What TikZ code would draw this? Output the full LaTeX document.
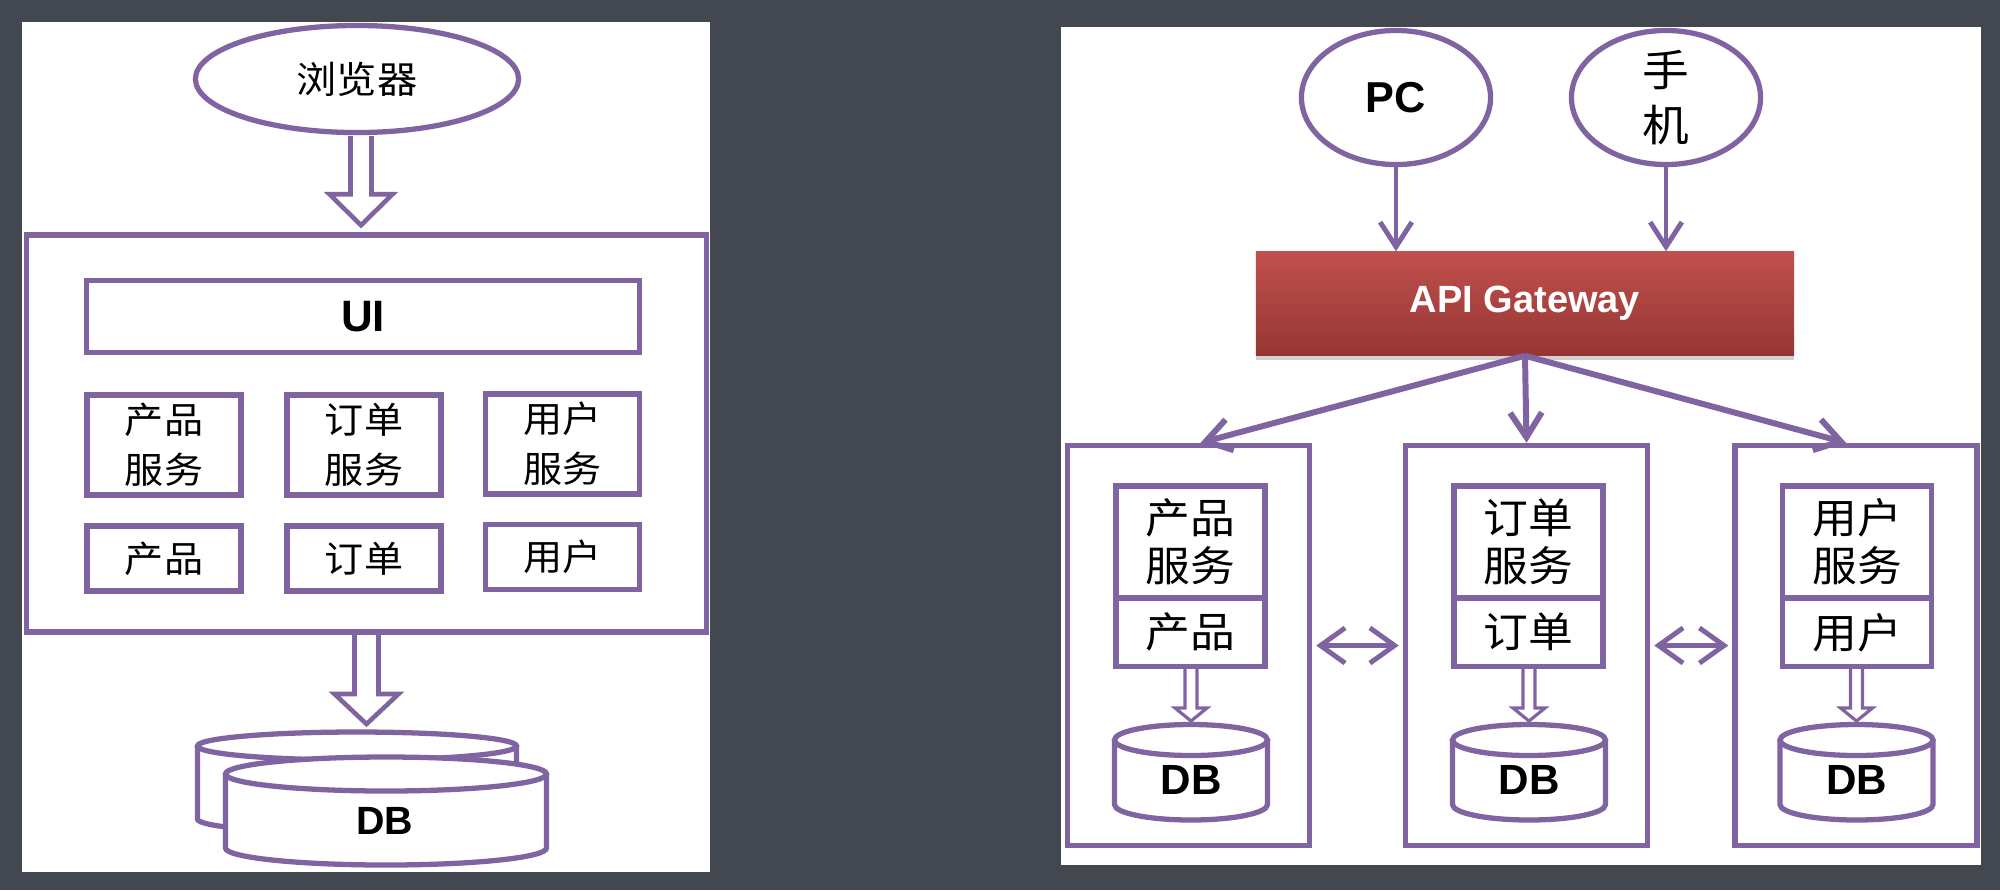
\documentclass[tikz,border=0pt]{standalone}
\usepackage{fontspec}
\setmainfont{Liberation Sans}
\newfontfamily\cjk[FakeStretch=1.08]{Noto Sans CJK SC}
\usetikzlibrary{arrows.meta,calc,shadows,shapes.geometric}
\definecolor{pur}{HTML}{8064A2}
\definecolor{bgc}{HTML}{43474F}
\definecolor{gwtop}{HTML}{C0504D}
\definecolor{gwbot}{HTML}{963634}
\newcommand\dbcyl[5]{%
  \fill[white] ({#1-#4},{-#2}) -- ({#1-#4},{-#3}) arc[start angle=180,end angle=360,x radius=#4,y radius=#5] -- ({#1+#4},{-#2}) -- cycle;
  \fill[white] ({#1},{-#2}) ellipse[x radius=#4,y radius=#5];
  \draw[pline] ({#1-#4},{-#2}) -- ({#1-#4},{-#3}) arc[start angle=180,end angle=360,x radius=#4,y radius=#5] -- ({#1+#4},{-#2});
  \draw[pline] ({#1},{-#2}) ellipse[x radius=#4,y radius=#5];
}
\begin{document}
\begin{tikzpicture}[x=0.01cm,y=0.01cm,
  pline/.style={draw=pur,line width=1.5pt},
  box/.style={draw=pur,line width=1.5pt,fill=white,rectangle,inner sep=0pt,align=center},
  oval/.style={draw=pur,line width=1.5pt,fill=white,ellipse,inner sep=0pt,align=center},
  hollow/.style={draw=pur,line width=1.3pt,line join=miter},
  thinhollow/.style={draw=pur,line width=0.9pt,line join=miter},
  barb/.style={draw=pur,line width=1.4pt,-{Straight Barb[length=7pt,width=9pt]}},
  dbarb/.style={draw=pur,line width=1.4pt,{Straight Barb[length=7pt,width=10pt]}-{Straight Barb[length=7pt,width=10pt]}},
  cnL/.style={font=\fontsize{10.3}{14.2}\selectfont\cjk},
  cnR/.style={font=\fontsize{11.8}{13.7}\selectfont\cjk},
  lat/.style={font=\bfseries\fontsize{#1}{#1}\selectfont}
]
\fill[bgc] (0,0) rectangle (2000,-890);
\useasboundingbox (0,0) rectangle (2000,-890);

% ---------------- left: monolith ----------------
\fill[white] (22,-22) rectangle (710,-872);
\node[oval,minimum width=3.23cm,minimum height=1.07cm,font=\fontsize{10.6}{12}\selectfont\cjk] (browser) at (357,-79) {浏览器};
\node[box,minimum width=6.79cm,minimum height=3.97cm] (mono) at (366.5,-433.5) {};
\node[box,minimum width=5.53cm,minimum height=0.72cm,lat=12.5] (ui) at (363,-316.5) {UI};
\node[box,minimum width=1.54cm,minimum height=1.00cm,cnL] (ls1) at (164,-445) {产品\\服务};
\node[box,minimum width=1.54cm,minimum height=1.00cm,cnL] (ls2) at (364,-445) {订单\\服务};
\node[box,minimum width=1.54cm,minimum height=1.00cm,cnL] (ls3) at (562.5,-444) {用户\\服务};
\node[box,minimum width=1.54cm,minimum height=0.65cm,cnL] (ld1) at (164,-558.5) {产品};
\node[box,minimum width=1.54cm,minimum height=0.65cm,cnL] (ld2) at (364,-558.5) {订单};
\node[box,minimum width=1.54cm,minimum height=0.65cm,cnL] (ld3) at (562.5,-557) {用户};

% hollow arrow browser -> mono
\coordinate (a1s) at ($(browser.south)+(4,0)$);
\coordinate (a1e) at (a1s |- mono.north);
\draw[hollow] ($(a1s)+(-10.5,-1)$) -- ($(a1e)+(-10.5,38)$) -- ($(a1e)+(-31.5,38)$) -- ($(a1e)+(0,7)$) -- ($(a1e)+(31.5,38)$) -- ($(a1e)+(10.5,38)$) -- ($(a1s)+(10.5,-1)$);

% database (double cylinder)
\dbcyl{357}{746}{819}{159.5}{14}
\dbcyl{386}{774}{848}{160.5}{17}
\node[lat=11.2] (dbL) at (385,-821) {DB};
\coordinate (dbLtop) at (366.5,-731);

% hollow arrow mono -> DB
\coordinate (a2s) at (mono.south);
\draw[hollow] ($(a2s)+(-12,0)$) -- ($(dbLtop)+(-12,37)$) -- ($(dbLtop)+(-32,37)$) -- ($(dbLtop)+(0,7)$) -- ($(dbLtop)+(32,37)$) -- ($(dbLtop)+(12,37)$) -- ($(a2s)+(12,0)$);

% ---------------- right: microservices ----------------
\fill[white] (1061,-27) rectangle (1981,-865);
\node[oval,minimum width=1.89cm,minimum height=1.34cm,lat=12.3] (pc) at (1396,-97.5) {PC};
\node[oval,minimum width=1.89cm,minimum height=1.34cm,font=\fontsize{12.3}{15.6}\selectfont\cjk] (mob) at (1666,-97.5) {手\\机};
\node[rectangle,inner sep=0pt,minimum width=5.38cm,minimum height=1.03cm,top color=gwtop,bottom color=gwbot,
      drop shadow={shadow xshift=0pt,shadow yshift=-1.5pt,opacity=0.18,fill=black},
      text=white,lat=10.8] (gw) at (1525,-303.5) {API Gateway};
\draw[barb] (pc.south) -- (pc.south |- gw.north);
\draw[barb] (mob.south) -- (mob.south |- gw.north);

\node[box,minimum width=2.42cm,minimum height=4.00cm] (p1) at (1188.5,-645.5) {};
\node[box,minimum width=2.42cm,minimum height=4.00cm] (p2) at (1526.5,-645.5) {};
\node[box,minimum width=2.42cm,minimum height=4.00cm] (p3) at (1856,-645.5) {};

\draw[barb,line width=1.7pt] (gw.south) -- ($(p1.north)+(12,0)$);
\draw[barb,line width=1.7pt] (gw.south) -- (p2.north);
\draw[barb,line width=1.7pt] (gw.south) -- ($(p3.north)+(-10,0)$);

\node[box,minimum width=1.49cm,minimum height=1.12cm,cnR] (s1) at (1190.5,-542) {产品\\服务};
\node[box,minimum width=1.49cm,minimum height=0.685cm,cnR] (d1) at (1190.5,-632.25) {产品};
\node[box,minimum width=1.49cm,minimum height=1.12cm,cnR] (s2) at (1528.5,-542) {订单\\服务};
\node[box,minimum width=1.49cm,minimum height=0.685cm,cnR] (d2) at (1528.5,-632.25) {订单};
\node[box,minimum width=1.49cm,minimum height=1.12cm,cnR] (s3) at (1857,-542) {用户\\服务};
\node[box,minimum width=1.49cm,minimum height=0.685cm,cnR] (d3) at (1857,-632.25) {用户};

\dbcyl{1191}{740}{804.5}{76.5}{15.5}
\dbcyl{1529}{740}{804.5}{76.5}{15.5}
\dbcyl{1856.5}{740}{804.5}{76.5}{15.5}
\node[lat=12] (db1) at (1191,-780) {DB};
\node[lat=12] (db2) at (1529,-780) {DB};
\node[lat=12] (db3) at (1856.5,-780) {DB};
\coordinate (t1) at (1191,-724);
\coordinate (t2) at (1529,-724);
\coordinate (t3) at (1856.5,-724);

\foreach \d/\t in {d1/t1,d2/t2,d3/t3}{
  \draw[thinhollow] ($(\d.south -| \t)+(-6,0)$) -- ($(\t)+(-6,16)$) -- ($(\t)+(-16,16)$) -- ($(\t)+(0,3)$) -- ($(\t)+(16,16)$) -- ($(\t)+(6,16)$) -- ($(\d.south -| \t)+(6,0)$);
}

\draw[dbarb] ($(p1.east)+(4,0)$) -- ($(p2.west)+(-4,0)$);
\draw[dbarb] ($(p2.east)+(4,0)$) -- ($(p3.west)+(-4,0)$);
\end{tikzpicture}
\end{document}
